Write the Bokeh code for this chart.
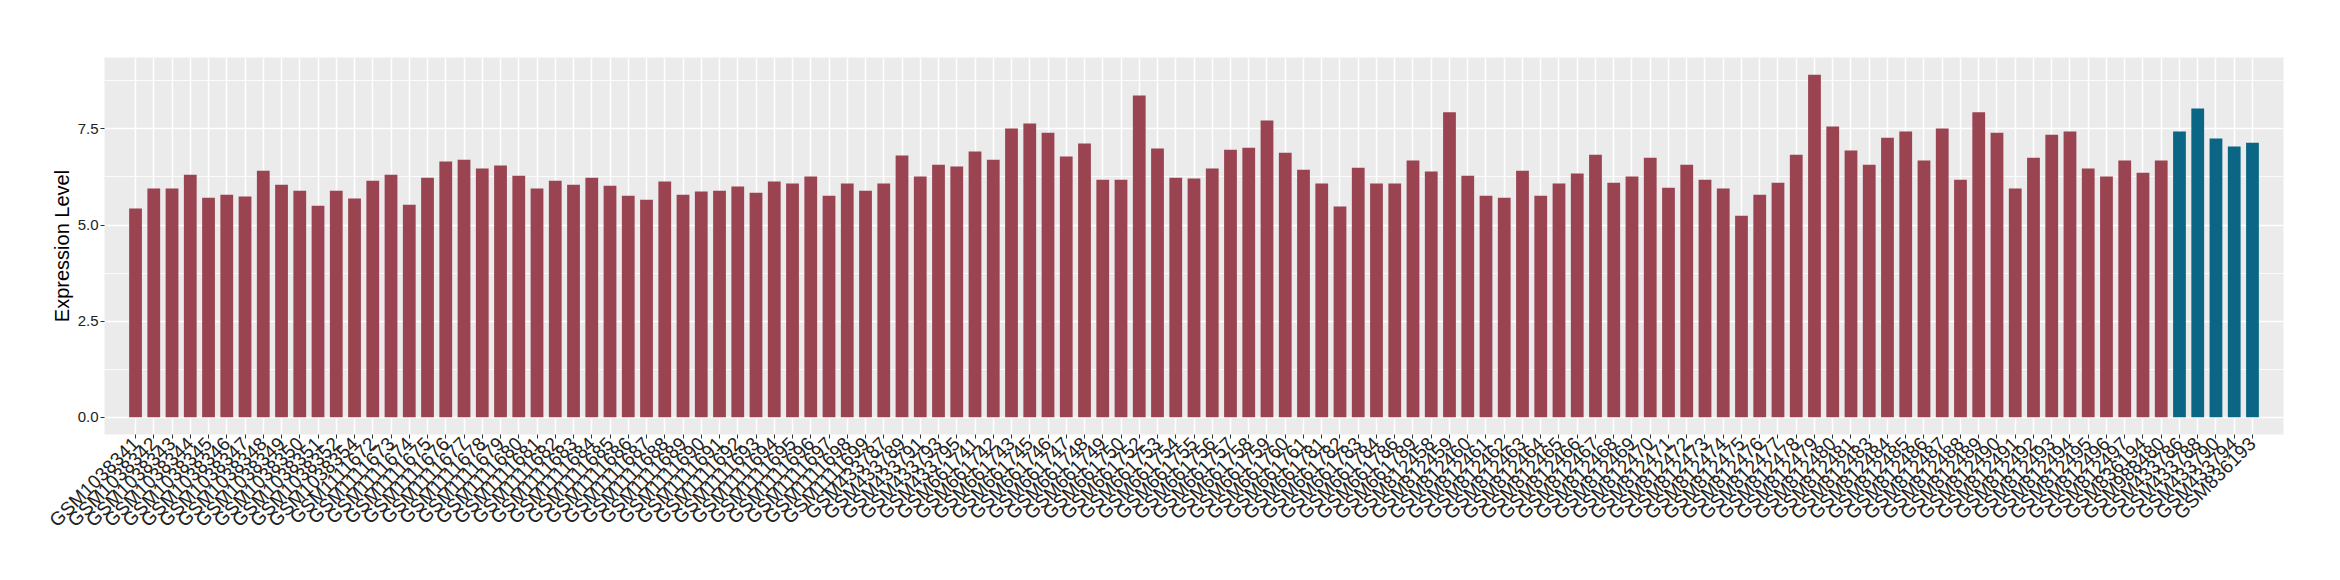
import math
from bokeh.plotting import figure
from bokeh.models import FactorRange, Range1d, FixedTicker, ColumnDataSource, Title
from bokeh.transform import factor_cmap
from bokeh.embed import file_html
from bokeh.resources import INLINE

samples = [
    "GSM1038341", "GSM1038342", "GSM1038343", "GSM1038344", "GSM1038345", "GSM1038346",
    "GSM1038347", "GSM1038348", "GSM1038349", "GSM1038350", "GSM1038351", "GSM1038352",
    "GSM1038354",
    "GSM1111672", "GSM1111673", "GSM1111674", "GSM1111675", "GSM1111676", "GSM1111677",
    "GSM1111678", "GSM1111679", "GSM1111680", "GSM1111681", "GSM1111682", "GSM1111683",
    "GSM1111684", "GSM1111685", "GSM1111686", "GSM1111687", "GSM1111688", "GSM1111689",
    "GSM1111690", "GSM1111691", "GSM1111692", "GSM1111693", "GSM1111694", "GSM1111695",
    "GSM1111696", "GSM1111697", "GSM1111698", "GSM1111699",
    "GSM433787", "GSM433789", "GSM433791", "GSM433793", "GSM433795",
    "GSM661741", "GSM661742", "GSM661743", "GSM661745", "GSM661746", "GSM661747",
    "GSM661748", "GSM661749", "GSM661750", "GSM661752", "GSM661753", "GSM661754",
    "GSM661755", "GSM661756", "GSM661757", "GSM661758", "GSM661759", "GSM661760",
    "GSM661761", "GSM661781", "GSM661782", "GSM661783", "GSM661784", "GSM661786",
    "GSM661789",
    "GSM812458", "GSM812459", "GSM812460", "GSM812461", "GSM812462", "GSM812463",
    "GSM812464", "GSM812465", "GSM812466", "GSM812467", "GSM812468", "GSM812469",
    "GSM812470", "GSM812471", "GSM812472", "GSM812473", "GSM812474", "GSM812475",
    "GSM812476", "GSM812477", "GSM812478", "GSM812479", "GSM812480", "GSM812481",
    "GSM812483", "GSM812484", "GSM812485", "GSM812486", "GSM812487", "GSM812488",
    "GSM812489", "GSM812490", "GSM812491", "GSM812492", "GSM812493", "GSM812494",
    "GSM812495", "GSM812496", "GSM812497",
    "GSM836194", "GSM988480",
    "GSM433786", "GSM433788", "GSM433790", "GSM433794", "GSM836193",
]

values = [
    5.43, 5.95, 5.95, 6.31, 5.71, 5.79, 5.74, 6.41, 6.05, 5.89,
    5.50, 5.89, 5.69, 6.15, 6.31, 5.53, 6.23, 6.65, 6.70, 6.47,
    6.55, 6.28, 5.95, 6.15, 6.05, 6.23, 6.02, 5.76, 5.66, 6.13,
    5.79, 5.87, 5.89, 6.00, 5.84, 6.13, 6.08, 6.26, 5.76, 6.08,
    5.89, 6.08, 6.81, 6.26, 6.57, 6.52, 6.91, 6.70, 7.51, 7.64,
    7.40, 6.78, 7.12, 6.18, 6.18, 8.37, 6.99, 6.23, 6.21, 6.47,
    6.96, 7.01, 7.72, 6.88, 6.44, 6.08, 5.48, 6.49, 6.08, 6.08,
    6.68, 6.39, 7.93, 6.28, 5.76, 5.71, 6.41, 5.76, 6.08, 6.34,
    6.83, 6.10, 6.26, 6.75, 5.97, 6.57, 6.18, 5.95, 5.24, 5.79,
    6.10, 6.83, 8.91, 7.56, 6.94, 6.57, 7.27, 7.43, 6.68, 7.51,
    6.18, 7.93, 7.40, 5.95, 6.75, 7.35, 7.43, 6.47, 6.26, 6.68,
    6.36, 6.68,
    7.43, 8.03, 7.25, 7.04, 7.14,
]

groups = ["other"] * 112 + ["target"] * 5
group_names = ["other", "target"]
group_colors = ["#9A4351", "#0B6686"]

y_ticks = [0, 2.5, 5, 7.5]
y_minor = [1.25, 3.75, 6.25, 8.75]
y_title = "Expression Level"

src = ColumnDataSource(dict(sample=samples, value=values, group=groups))

ymax = max(values)
p = figure(
    x_range=FactorRange(factors=samples, range_padding=1.2, range_padding_units="absolute"),
    y_range=Range1d(-0.05 * ymax, 1.05 * ymax),
    frame_width=2179, frame_height=377,
    min_border_left=104, min_border_right=57, min_border_top=57, min_border_bottom=146,
    output_backend="svg", toolbar_location=None,
)
p.vbar(x="sample", top="value", width=0.7, source=src, line_color=None,
       fill_color=factor_cmap("group", palette=group_colors, factors=group_names))

p.background_fill_color = "#EBEBEB"
p.border_fill_color = "white"
p.outline_line_color = None

p.xgrid.grid_line_color = "white"
p.xgrid.grid_line_width = 1.5
p.ygrid.ticker = FixedTicker(ticks=y_ticks, minor_ticks=y_minor)
p.ygrid.grid_line_color = "white"
p.ygrid.grid_line_width = 1.5
p.ygrid.minor_grid_line_color = "white"
p.ygrid.minor_grid_line_width = 0.8

p.yaxis.ticker = FixedTicker(ticks=y_ticks, minor_ticks=[])
p.yaxis.major_label_overrides = {0: "0.0", 2.5: "2.5", 5: "5.0", 7.5: "7.5"}

for ax in (p.xaxis, p.yaxis):
    ax.axis_line_color = None
    ax.major_tick_line_color = "#333333"
    ax.major_tick_out = 4
    ax.major_tick_in = 0
    ax.minor_tick_line_color = None
    ax.major_label_text_font = "Liberation Sans"
    ax.major_label_text_color = "#222222"
    ax.major_label_standoff = 2

p.yaxis.major_label_text_font_size = "15px"
p.xaxis.major_label_text_font_size = "19px"
p.xaxis.major_label_orientation = math.pi / 4

p.add_layout(Title(text=y_title, align="center", text_font="Liberation Sans",
                   text_font_size="20px", text_font_style="normal",
                   text_color="black", standoff=4), "left")

open("out.html", "w").write(file_html(p, INLINE))
